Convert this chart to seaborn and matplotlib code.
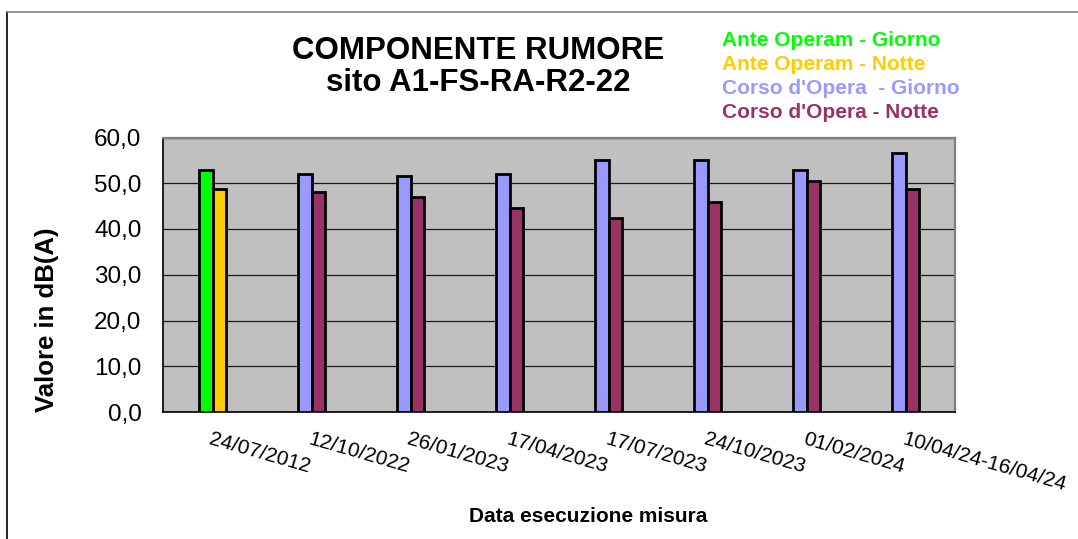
import matplotlib
matplotlib.use("Agg")
import matplotlib.pyplot as plt
from matplotlib.ticker import FixedLocator, FuncFormatter, NullFormatter
from matplotlib.lines import Line2D
import seaborn as sns
import pandas as pd

# ---- data ----
dates = ["24/07/2012", "12/10/2022", "26/01/2023", "17/04/2023",
         "17/07/2023", "24/10/2023", "01/02/2024", "10/04/24-16/04/24"]
giorno = [53.0, 52.0, 51.5, 52.0, 55.0, 55.0, 53.0, 56.7]
notte = [48.8, 48.0, 47.0, 44.5, 42.5, 46.0, 50.5, 48.8]
periodo = ["Ante Operam"] + ["Corso d'Opera"] * 7

legend_labels = ["Ante Operam - Giorno", "Ante Operam - Notte",
                 "Corso d'Opera  - Giorno", "Corso d'Opera - Notte"]
colors = {("Ante Operam", "Giorno"): "#00FF00",
          ("Ante Operam", "Notte"): "#FFCC00",
          ("Corso d'Opera", "Giorno"): "#9999FF",
          ("Corso d'Opera", "Notte"): "#993366"}
legend_colors = ["#00FF00", "#FFCC00", "#9999FF", "#993366"]

slots = ["Giorno", "Notte"]
df = pd.DataFrame({
    "date": dates * 2,
    "slot": ["Giorno"] * len(dates) + ["Notte"] * len(dates),
    "value": giorno + notte,
})

# ---- style ----
sns.set_style("white")
plt.rcParams["font.family"] = ["Liberation Sans", "DejaVu Sans"]
plt.rcParams["text.color"] = "black"
plt.rcParams["axes.labelcolor"] = "black"
plt.rcParams["xtick.color"] = "black"
plt.rcParams["ytick.color"] = "black"

W, H = 1078, 539
fig = plt.figure(figsize=(W / 100, H / 100), dpi=100)
ax = fig.add_axes([163 / W, 1 - 412 / H, (955 - 163) / W, (412 - 137.5) / H])
ax.set_facecolor("#C0C0C0")

sns.barplot(data=df, x="date", y="value", hue="slot", order=dates,
            hue_order=slots, width=0.28, dodge=True, legend=False,
            edgecolor="black", linewidth=2.0, saturation=1, ax=ax,
            palette=["#9999FF", "#993366"], errorbar=None)

for cont, slot in zip(ax.containers, slots):
    for i, patch in enumerate(cont):
        patch.set_facecolor(colors[(periodo[i], slot)])
        patch.set_zorder(3)

ax.set_ylim(0, 60)
ax.set_xlim(-0.5, len(dates) - 0.5)
ax.set_yticks(range(0, 61, 10))
ax.yaxis.set_major_formatter(FuncFormatter(lambda v, p: f"{v:.1f}".replace(".", ",")))
ax.set_axisbelow(True)
ax.yaxis.grid(True, color="#1a1a1a", linewidth=0.9)
ax.xaxis.grid(False)

# x ticks: major at boundaries (marks), minor at centres (labels)
ax.xaxis.set_major_locator(FixedLocator([i - 0.5 for i in range(len(dates) + 1)]))
ax.xaxis.set_major_formatter(NullFormatter())
ax.xaxis.set_minor_locator(FixedLocator(list(range(len(dates)))))
ax.set_xticklabels(dates, minor=True)
ax.tick_params(axis="x", which="major", direction="out", length=4.5, width=1, color="black")
ax.tick_params(axis="x", which="minor", length=0, pad=13, labelsize=15, labelcolor="black")
for lab in ax.get_xticklabels(minor=True):
    lab.set_rotation(-16)
    lab.set_rotation_mode("anchor")
    lab.set_ha("left")
    lab.set_va("top")
ax.tick_params(axis="y", direction="out", length=4.5, width=1, color="black",
               pad=11, labelsize=17.5, labelcolor="black")

for s in ["left", "bottom"]:
    ax.spines[s].set_color("black")
    ax.spines[s].set_linewidth(1.2)
for s in ["top", "right"]:
    ax.spines[s].set_color("#808080")
    ax.spines[s].set_linewidth(1.6)
    ax.spines[s].set_visible(True)

ax.set_xlabel("Data esecuzione misura", fontsize=15, fontweight="bold", color="black")
ax.xaxis.set_label_coords((588 - 163) / 792, (412 - 517) / 274.5)
ax.xaxis.label.set_va("center")
ax.set_ylabel("Valore in dB(A)", fontsize=18.5, fontweight="bold", color="black")
ax.yaxis.set_label_coords((47 - 163) / 792, (412 - 320) / 274.5)
ax.yaxis.label.set_va("center")

# title
fig.text(478 / W, 1 - 67 / H, "COMPONENTE RUMORE\nsito A1-FS-RA-R2-22",
         ha="center", va="center", fontsize=22.5, fontweight="bold",
         linespacing=1.12, color="black")

# legend (coloured text entries)
for lab, col, yy in zip(legend_labels, legend_colors, [40, 64.5, 88.5, 113]):
    fig.text(722 / W, 1 - yy / H, lab, color=col, fontsize=15,
             fontweight="bold", ha="left", va="center")

# chart area border
fig.add_artist(Line2D([7 / W, 7 / W], [0, 1 - 12 / H], transform=fig.transFigure,
                      color="black", linewidth=1.2))
fig.add_artist(Line2D([7 / W, 1], [1 - 12 / H, 1 - 12 / H], transform=fig.transFigure,
                      color="#808080", linewidth=1.2))

fig.savefig("out.png", dpi=100)
